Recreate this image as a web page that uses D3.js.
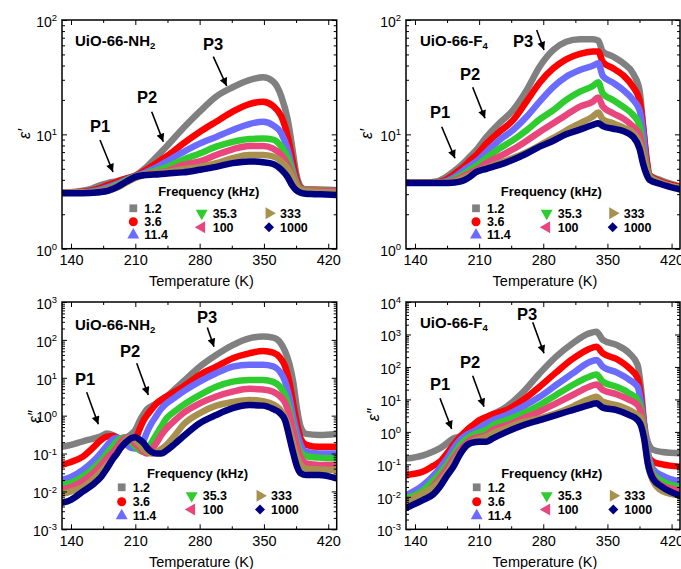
<!DOCTYPE html>
<html><head><meta charset="utf-8">
<script src="https://cdn.jsdelivr.net/npm/d3@7"></script>
<style>
body{margin:0;background:#fff}
svg{display:block}
text{font-family:"Liberation Sans",Arial,Helvetica,sans-serif;fill:#000}
</style>
</head><body>
<svg id="chart" width="681" height="569"></svg>
<script>
// ---------- data ----------
const frequencies = ["1.2","3.6","11.4","35.3","100","333","1000"];
const seriesColors = ["#808080","#ff0000","#6b6bff","#2ecc2e","#e8467c","#a8904e","#000080"];
const xTickValues = [140,210,280,350,420];
const xMinorValues = [175,245,315,385];

// UiO-66-NH2, real part
const tempNHReal = [130,145,160,170,180,190,200,210,220,230,245,262,280,298,316,334,349,360,369,376,381,385,390,395,405,429];
const nhReal = [
  [3.1,3.15,3.3,3.55,3.75,3.9,4.1,4.35,5.0,6.0,8.0,11.3,15.8,21.4,25.8,29.8,31.6,29,21.4,13.3,7.5,4.6,3.5,3.3,3.28,3.25],
  [3.1,3.12,3.2,3.35,3.6,3.85,4.1,4.35,4.8,5.4,6.5,8.3,10.5,12.9,15.8,18.4,19.3,17.7,14.3,9.5,6.0,4.2,3.4,3.3,3.27,3.25],
  [3.1,3.1,3.15,3.25,3.45,3.7,4.0,4.3,4.6,5.0,5.85,7.0,8.3,9.5,10.9,12.3,12.9,12.0,10.2,7.3,5.0,3.9,3.35,3.28,3.25,3.22],
  [3.1,3.1,3.12,3.2,3.35,3.6,3.95,4.25,4.5,4.75,5.2,6.0,6.8,7.8,8.6,9.1,9.2,9.0,7.8,6.2,4.7,3.8,3.35,3.28,3.25,3.2],
  [3.1,3.1,3.1,3.15,3.28,3.5,3.85,4.2,4.45,4.6,4.8,5.4,5.8,6.6,7.4,7.9,7.9,7.5,6.6,5.4,4.4,3.7,3.3,3.25,3.22,3.18],
  [3.1,3.1,3.1,3.12,3.22,3.42,3.78,4.15,4.4,4.55,4.7,4.95,5.2,5.6,6.2,6.6,6.6,6.4,5.8,5.0,4.2,3.6,3.25,3.2,3.15,3.1],
  [3.05,3.05,3.07,3.12,3.2,3.45,3.85,4.25,4.4,4.45,4.55,4.65,4.9,5.2,5.6,5.8,5.7,5.5,4.9,4.2,3.55,3.25,3.08,3.02,3.0,2.95]
];

// UiO-66-F4, real part
const tempF4Real = [130,150,165,172,180,186,193,200,207,218,232,247,262,276,291,305,320,334,340,345,356,367,378,385,389,392.5,396,407,429];
const f4Real = [
  [3.8,3.8,3.9,4.15,4.6,5.0,5.6,6.4,7.3,9.5,12.5,16.3,24.5,39,54.7,64.5,68,68,66,53,48,42,34,24.5,11.7,6.0,4.4,4.0,3.5],
  [3.8,3.8,3.82,3.95,4.3,4.7,5.2,5.9,6.6,8.3,10.5,13.3,19.5,28.3,37.8,45.3,50.5,52.9,53,43,37.8,33,26,20,11.7,6.4,4.4,3.9,3.5],
  [3.8,3.8,3.8,3.85,4.1,4.4,4.85,5.3,5.8,7.0,8.9,10.9,14.3,19.3,26,31.9,36.5,39.8,41.8,32.4,28.3,24.5,20,16.3,10.3,5.5,4.3,3.8,3.4],
  [3.8,3.8,3.8,3.8,3.95,4.2,4.5,4.9,5.3,6.2,7.5,8.9,10.9,13.5,16.3,20,23.6,26.5,28.5,22.8,20,17.5,14.8,12.1,7.5,5.3,4.3,3.8,3.4],
  [3.8,3.8,3.8,3.8,3.88,4.05,4.3,4.6,4.9,5.6,6.4,7.4,8.8,10.5,12.5,14.8,17.5,19.3,21,17.5,15.3,13.8,11.7,10,7,5,4.2,3.8,3.4],
  [3.8,3.8,3.8,3.8,3.82,3.95,4.15,4.4,4.7,5.1,5.6,6.2,7.0,8.0,9.3,10.8,12.5,14.3,15.5,13.5,12.5,11.5,10.3,8.5,6.5,5,4.2,3.8,3.4],
  [3.75,3.75,3.75,3.75,3.77,3.82,3.95,4.25,4.7,5.0,5.4,6.0,6.8,7.8,8.8,10,11,12.1,12.5,11.8,11.2,10.7,9.5,7.5,5.5,4.5,4.0,3.7,3.3]
];

// UiO-66-NH2, imaginary part
const tempNHImag = [130,140,153,165,172,179,186,190,194,198,202,206,210,215,219,223,228,233,238,244,253,262,280,298,316,334,349,360,367,373,378,382,386,390,396,410,429];
const nhImag = [
  [0.15,0.17,0.21,0.25,0.28,0.34,0.3,0.26,0.25,0.26,0.28,0.33,0.42,0.75,1.1,1.5,1.8,2.1,2.5,3.2,5.0,7.9,19.6,40,73,110,122,115,90,50,22,7.5,1.5,0.5,0.33,0.31,0.33],
  [0.05,0.06,0.083,0.15,0.22,0.28,0.29,0.27,0.24,0.22,0.2,0.2,0.24,0.46,0.75,1.05,1.5,2.1,2.6,3.2,4.3,5.8,11.9,19.6,32.7,44,51,46,35,20,7,2.0,0.6,0.25,0.17,0.15,0.15],
  [0.02,0.024,0.037,0.065,0.1,0.16,0.24,0.26,0.24,0.19,0.16,0.14,0.135,0.15,0.22,0.38,0.65,1.0,1.5,2.1,3.0,4.3,7.9,13.1,19.6,22,22,20,15,8,2.8,0.9,0.35,0.17,0.11,0.1,0.1],
  [0.015,0.017,0.025,0.042,0.062,0.1,0.16,0.21,0.25,0.27,0.24,0.19,0.15,0.12,0.11,0.13,0.2,0.32,0.5,0.85,1.3,1.9,3.5,5.8,7.9,8.7,8.7,7.8,6,3.5,1.4,0.5,0.2,0.11,0.085,0.078,0.075],
  [0.011,0.013,0.019,0.032,0.048,0.075,0.11,0.145,0.2,0.25,0.27,0.23,0.18,0.14,0.11,0.1,0.13,0.19,0.3,0.46,0.75,1.16,2.1,3.2,4.3,5.1,4.9,4.3,3.3,2.2,1.0,0.4,0.16,0.08,0.055,0.05,0.05],
  [0.0085,0.01,0.013,0.022,0.032,0.05,0.075,0.1,0.14,0.2,0.25,0.27,0.23,0.17,0.13,0.11,0.1,0.11,0.13,0.17,0.3,0.57,1.16,1.84,2.3,2.6,2.4,2.0,1.5,0.9,0.4,0.17,0.08,0.05,0.04,0.038,0.037],
  [0.005,0.006,0.01,0.016,0.023,0.04,0.075,0.1,0.14,0.18,0.22,0.26,0.27,0.23,0.19,0.14,0.11,0.1,0.1,0.12,0.18,0.28,0.63,1.04,1.57,1.9,1.84,1.5,1.2,0.75,0.25,0.1,0.045,0.03,0.027,0.027,0.022]
];

// UiO-66-F4, imaginary part
const tempF4Imag = [130,149,160,167,175,182,189,196,203,210,218,225,240,258,276,294,312,330,338,345,360,374,383,387,390,394,400,410,429];
const f4Imag = [
  [0.15,0.19,0.25,0.31,0.45,0.63,0.72,0.95,1.45,2.1,2.8,3.5,6,17,63,208,535,1080,1220,680,475,263,115,17,2,0.5,0.28,0.24,0.22],
  [0.047,0.06,0.09,0.12,0.22,0.4,0.7,1.1,1.6,2.3,2.9,3.5,4.7,9.6,24.6,68,176,357,420,263,176,91,45,10,1.6,0.2,0.12,0.1,0.085],
  [0.011,0.023,0.045,0.076,0.15,0.31,0.55,0.8,1.0,1.3,1.8,2.3,3.3,6,12,27.8,63,139,164,102,68,40,24.6,6.7,1.6,0.25,0.07,0.045,0.029],
  [0.009,0.016,0.032,0.053,0.1,0.2,0.38,0.6,0.8,0.95,1.15,1.6,2.3,3.7,6.7,13.7,27.8,50,59,35,24.6,15.4,9.6,4.7,1.2,0.2,0.05,0.03,0.02],
  [0.0063,0.01,0.022,0.037,0.075,0.15,0.28,0.45,0.62,0.7,0.8,1.15,1.6,2.6,4.2,7.6,13.7,24.6,29,19.5,14.5,9.6,6.7,3.7,1.0,0.15,0.04,0.022,0.016],
  [0.0074,0.013,0.02,0.029,0.055,0.11,0.22,0.36,0.5,0.6,0.71,0.9,1.3,2.05,2.6,3.7,6,10.3,12,8.5,6.7,4.7,3.3,2.6,0.9,0.11,0.03,0.015,0.011],
  [0.0045,0.008,0.012,0.02,0.045,0.085,0.2,0.38,0.47,0.5,0.5,0.63,1.0,1.6,2.3,3.3,4.7,6.7,7.6,5.6,4.7,3.3,2.3,1.45,0.63,0.11,0.035,0.02,0.011]
];

// ---------- layout ----------
const xDomain = [130.2, 429.2];
const panels = [
  {id:"a", temps:tempNHReal, series:nhReal, xr:[62,336.7], yr:[248.7,20], yd:[1,100],
   name:"UiO-66-NH", sub:"2", nameAt:[75,46], ylab:"ε′", ylabAt:[24,134],
   leg:{head:[208.7,196], c1:133.3, c2:201.7, c3:269, r1:[208.3,221.7,235], r2:[213.3,227.3]},
   peaks:[{t:"P1",at:[90,132],a:[[100,140],[113,172]]},{t:"P2",at:[137,103],a:[[151.7,111.7],[163.3,141.7]]},{t:"P3",at:[203,50],a:[[213.3,56.7],[226.7,86]]}]},
  {id:"b", temps:tempF4Real, series:f4Real, xr:[406,680], yr:[248.7,20], yd:[1,100],
   name:"UiO-66-F", sub:"4", nameAt:[420,46], ylab:"ε′", ylabAt:[366,134],
   leg:{head:[551.3,196], c1:476, c2:546.7, c3:612.7, r1:[208.3,221.7,235], r2:[213.3,227.3]},
   peaks:[{t:"P1",at:[430,118],a:[[441.7,126.7],[455,158.3]]},{t:"P2",at:[460,80],a:[[472.7,87.3],[485,118.3]]},{t:"P3",at:[513,46.5],a:[[536.7,30],[544,50]]}]},
  {id:"c", temps:tempNHImag, series:nhImag, xr:[62,336.7], yr:[529.3,302], yd:[1e-3,1e3],
   name:"UiO-66-NH", sub:"2", nameAt:[75,330], ylab:"ε″", ylabAt:[34,417],
   leg:{head:[197.5,477.5], c1:121.7, c2:191.7, c3:260, r1:[487.3,501.7,515.7], r2:[495.7,509.5]},
   peaks:[{t:"P1",at:[75,385],a:[[86.7,392.3],[98.3,424.3]]},{t:"P2",at:[120,356.5],a:[[136.7,363.3],[148.3,395]]},{t:"P3",at:[197,323],a:[[207.3,327.5],[214,346.7]]}]},
  {id:"d", temps:tempF4Imag, series:f4Imag, xr:[406,680], yr:[529.3,302], yd:[1e-3,1e4],
   name:"UiO-66-F", sub:"4", nameAt:[420,328], ylab:"ε″", ylabAt:[373,415],
   leg:{head:[551.7,477.5], c1:476.7, c2:546.7, c3:613.3, r1:[487.3,501.7,515.7], r2:[495.7,509.5]},
   peaks:[{t:"P1",at:[430,390],a:[[440,398.3],[451.7,429]]},{t:"P2",at:[460,368],a:[[472.7,375.7],[484,406.7]]},{t:"P3",at:[517,320],a:[[532.7,322.3],[544,353.3]]}]}
];

const svg = d3.select("#chart");
const defs = svg.append("defs");
defs.append("marker").attr("id","arrow").attr("viewBox","0 0 10 10")
  .attr("refX",10).attr("refY",5).attr("markerWidth",9).attr("markerHeight",8)
  .attr("markerUnits","userSpaceOnUse").attr("orient","auto")
  .append("path").attr("d","M0,0 L10,5 L0,10 Z").attr("fill","#000");

function symbolPath(i){
  const g = d3.symbol();
  switch(i){
    case 0: return {d:g.type(d3.symbolSquare).size(60)(), r:0};
    case 1: return {d:g.type(d3.symbolCircle).size(64)(), r:0};
    case 2: return {d:g.type(d3.symbolTriangle).size(62)(), r:0};
    case 3: return {d:g.type(d3.symbolTriangle).size(62)(), r:180};
    case 4: return {d:g.type(d3.symbolTriangle).size(62)(), r:-90};
    case 5: return {d:g.type(d3.symbolTriangle).size(62)(), r:90};
    default: return {d:g.type(d3.symbolSquare).size(50)(), r:45};
  }
}

panels.forEach(p => {
  const x = d3.scaleLinear().domain(xDomain).range(p.xr);
  const y = d3.scaleLog().domain(p.yd).range(p.yr);
  const g = svg.append("g");
  const [x0,x1] = p.xr, [y1,y0] = p.yr;

  defs.append("clipPath").attr("id","clip-"+p.id).append("rect")
    .attr("x",x0).attr("y",y0).attr("width",x1-x0).attr("height",y1-y0);

  // series bands
  const line = d3.line().x(d=>x(d[0])).y(d=>y(d[1])).curve(d3.curveMonotoneX);
  const plot = g.append("g").attr("clip-path","url(#clip-"+p.id+")");
  p.series.forEach((vals,i) => {
    plot.append("path")
      .datum(p.temps.map((t,k)=>[t,vals[k]]))
      .attr("d",line).attr("fill","none")
      .attr("stroke",seriesColors[i]).attr("stroke-width",6.5)
      .attr("stroke-linejoin","round").attr("stroke-linecap","round");
  });

  // axes
  const e0 = Math.round(Math.log10(p.yd[0])), e1 = Math.round(Math.log10(p.yd[1]));
  const decades = d3.range(e0,e1+1).map(e=>Math.pow(10,e));
  const minors = [];
  for(let e=e0;e<e1;e++) for(let m=2;m<=9;m++) minors.push(m*Math.pow(10,e));

  const bottom = g.append("g").attr("transform",`translate(0,${y1})`)
    .call(d3.axisBottom(x).tickValues(xTickValues).tickSize(-5).tickPadding(6).tickFormat(d3.format("d")));
  bottom.selectAll("text").attr("font-size","14.5px").attr("font-family","Liberation Sans, Arial, sans-serif");
  g.append("g").attr("transform",`translate(0,${y1})`)
    .call(d3.axisBottom(x).tickValues(xMinorValues).tickSize(-3).tickFormat(""));
  g.append("g").attr("transform",`translate(0,${y0})`)
    .call(d3.axisTop(x).tickValues(xTickValues).tickSize(-5).tickFormat(""));
  g.append("g").attr("transform",`translate(0,${y0})`)
    .call(d3.axisTop(x).tickValues(xMinorValues).tickSize(-3).tickFormat(""));

  const left = g.append("g").attr("transform",`translate(${x0},0)`)
    .call(d3.axisLeft(y).tickValues(decades).tickSize(-5).tickPadding(5).tickFormat(""));
  left.selectAll(".tick text").each(function(d){
    const ex = Math.round(Math.log10(d));
    const t = d3.select(this).attr("dy","0.45em").attr("font-size","14px")
      .attr("font-family","Liberation Sans, Arial, sans-serif");
    t.append("tspan").text("10");
    t.append("tspan").attr("dy","-0.6em").attr("font-size","9.5px").text(ex);
  });
  g.append("g").attr("transform",`translate(${x0},0)`)
    .call(d3.axisLeft(y).tickValues(minors).tickSize(-3).tickFormat(""));
  g.append("g").attr("transform",`translate(${x1},0)`)
    .call(d3.axisRight(y).tickValues(decades).tickSize(-5).tickFormat(""));
  g.append("g").attr("transform",`translate(${x1},0)`)
    .call(d3.axisRight(y).tickValues(minors).tickSize(-3).tickFormat(""));
  g.selectAll(".domain").remove();
  g.selectAll(".tick line").attr("stroke","#000").attr("stroke-width",1);

  // frame
  g.append("rect").attr("x",x0).attr("y",y0).attr("width",x1-x0).attr("height",y1-y0)
    .attr("fill","none").attr("stroke","#000").attr("stroke-width",1.5);

  // axis titles
  g.append("text").attr("x",(x0+x1)/2+2).attr("y",y1+37.4).attr("text-anchor","middle")
    .attr("font-size","14.5px").text("Temperature (K)");
  g.append("text").attr("transform",`translate(${p.ylabAt[0]},${p.ylabAt[1]}) rotate(-90)`)
    .attr("text-anchor","middle").attr("dy","0.35em").attr("font-size","16px")
    .attr("font-style","italic").text(p.ylab);

  // sample name
  const nm = g.append("text").attr("x",p.nameAt[0]).attr("y",p.nameAt[1])
    .attr("font-size","15px").attr("font-weight","bold");
  nm.append("tspan").text(p.name);
  nm.append("tspan").attr("dy","3").attr("font-size","9.5px").text(p.sub);

  // peak labels + arrows
  p.peaks.forEach(pk => {
    g.append("text").attr("x",pk.at[0]).attr("y",pk.at[1]).attr("font-size","16.5px")
      .attr("font-weight","bold").text(pk.t);
    g.append("line").attr("x1",pk.a[0][0]).attr("y1",pk.a[0][1])
      .attr("x2",pk.a[1][0]).attr("y2",pk.a[1][1])
      .attr("stroke","#000").attr("stroke-width",1.6).attr("marker-end","url(#arrow)");
  });

  // legend
  const L = p.leg;
  g.append("text").attr("x",L.head[0]).attr("y",L.head[1]).attr("text-anchor","middle")
    .attr("font-size","13px").attr("font-weight","bold").text("Frequency (kHz)");
  const slots = [[L.c1,L.r1[0]],[L.c1,L.r1[1]],[L.c1,L.r1[2]],[L.c2,L.r2[0]],[L.c2,L.r2[1]],[L.c3,L.r2[0]],[L.c3,L.r2[1]]];
  frequencies.forEach((f,i) => {
    const [sx,sy] = slots[i];
    const s = symbolPath(i);
    g.append("path").attr("d",s.d).attr("fill",seriesColors[i])
      .attr("transform",`translate(${sx},${sy}) rotate(${s.r})`);
    g.append("text").attr("x",sx+11).attr("y",sy+4.4).attr("font-size","12.5px")
      .attr("font-weight","bold").text(f);
  });
});
</script>
</body></html>
